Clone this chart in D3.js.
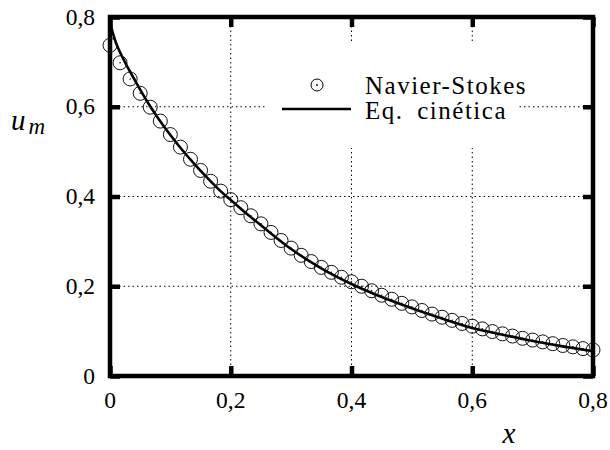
<!DOCTYPE html>
<html><head><meta charset="utf-8"><script src="https://cdn.jsdelivr.net/npm/d3@7"></script></head>
<body style="margin:0">
<svg id="fig" width="610" height="450"></svg>
<script>
// Navier-Stokes solution: centreline velocity u_m sampled every 1/60 in x
const nsX = d3.range(49).map(i => i / 60);
const nsU = [
  0.737, 0.698, 0.662, 0.630, 0.599, 0.568, 0.538, 0.510, 0.483, 0.458,
  0.434, 0.412, 0.393, 0.375, 0.357, 0.339, 0.320, 0.302, 0.285, 0.269,
  0.255, 0.242, 0.231, 0.220, 0.210, 0.200, 0.190, 0.180, 0.171, 0.162,
  0.154, 0.146, 0.138, 0.131, 0.124, 0.117, 0.111, 0.105, 0.099, 0.094,
  0.089, 0.084, 0.080, 0.076, 0.072, 0.068, 0.065, 0.061, 0.058
];

// Kinetic equation solution
const kinX = [0, 0.005, 0.01, 0.02, 0.03, 0.04, 0.05, 0.06, 0.08, 0.10,
  0.12, 0.14, 0.16, 0.18, 0.20, 0.22, 0.25, 0.30, 0.35, 0.40,
  0.45, 0.50, 0.55, 0.60, 0.65, 0.70, 0.75, 0.80];
const kinU = [0.790, 0.763, 0.742, 0.712, 0.686, 0.662, 0.638, 0.615, 0.574, 0.537,
  0.503, 0.472, 0.443, 0.416, 0.392, 0.369, 0.336, 0.283, 0.240, 0.205,
  0.176, 0.151, 0.128, 0.107, 0.092, 0.078, 0.066, 0.055];

const xTicks = [0, 0.2, 0.4, 0.6, 0.8];
const yTicks = [0, 0.2, 0.4, 0.6, 0.8];
const legendLabels = ["Navier-Stokes", "Eq. cinética"];
const fmt = v => v === 0 ? "0" : d3.format(".1f")(v).replace(".", ",");

const FONT = '"Liberation Serif", Tinos, monospace';
// apply the serif face with priority so no other rule overrides it
const serif = sel => sel.style("font-family", FONT, "important");

const svg = d3.select("#fig");
const L = 110, R = 593, T = 17, B = 376;
const x = d3.scaleLinear().domain([0, 0.8]).range([L, R]);
const y = d3.scaleLinear().domain([0, 0.8]).range([B, T]);

// dotted grid
const grid = svg.append("g")
  .attr("stroke", "#000").attr("stroke-width", 1)
  .attr("stroke-dasharray", "1.5,3").attr("fill", "none");
grid.selectAll("line.gx").data(xTicks.slice(1, -1)).join("line")
  .attr("x1", d => x(d)).attr("x2", d => x(d)).attr("y1", T).attr("y2", B);
grid.selectAll("line.gy").data(yTicks.slice(1, -1)).join("line")
  .attr("y1", d => y(d)).attr("y2", d => y(d)).attr("x1", L).attr("x2", R);

// legend box background hides the grid behind it
svg.append("rect").attr("x", 265).attr("y", 43).attr("width", 253).attr("height", 105)
  .attr("fill", "#fff");

// axes: tick marks only (inward, on all four sides)
const tickLen = 10;
const axisG = svg.append("g");
axisG.append("g").attr("transform", `translate(0,${B})`)
  .call(d3.axisBottom(x).tickValues(xTicks).tickFormat("").tickSizeInner(-tickLen).tickSizeOuter(0));
axisG.append("g").attr("transform", `translate(${L},0)`)
  .call(d3.axisLeft(y).tickValues(yTicks).tickFormat("").tickSizeInner(-tickLen).tickSizeOuter(0));
axisG.append("g").attr("transform", `translate(0,${T})`)
  .call(d3.axisTop(x).tickValues(xTicks).tickFormat("").tickSizeInner(-tickLen).tickSizeOuter(0));
axisG.append("g").attr("transform", `translate(${R},0)`)
  .call(d3.axisRight(y).tickValues(yTicks).tickFormat("").tickSizeInner(-tickLen).tickSizeOuter(0));
axisG.selectAll(".domain").remove();
axisG.selectAll("text").remove();
axisG.selectAll(".tick line").attr("stroke", "#000").attr("stroke-width", 4.5);

// tick labels placed from the same scales
svg.append("g").selectAll("text").data(xTicks).join("text")
  .attr("x", d => x(d)).attr("y", B + 32).attr("font-size", 23.5)
  .attr("text-anchor", "middle").call(serif).text(fmt);
svg.append("g").selectAll("text").data(yTicks).join("text")
  .attr("x", L - 15).attr("y", d => y(d) + 7.5).attr("font-size", 23.5)
  .attr("text-anchor", "end").call(serif).text(fmt);

svg.append("rect").attr("x", L).attr("y", T).attr("width", R - L).attr("height", B - T)
  .attr("fill", "none").attr("stroke", "#000").attr("stroke-width", 4.5);

// kinetic curve
const line = d3.line().x((d, i) => x(kinX[i])).y(d => y(d)).curve(d3.curveMonotoneX);
svg.append("path").datum(kinU).attr("d", line)
  .attr("fill", "none").attr("stroke", "#000").attr("stroke-width", 2.6);

// Navier-Stokes points: open circles with centre dot
const pts = svg.append("g");
pts.selectAll("circle.o").data(nsU).join("circle")
  .attr("cx", (d, i) => x(nsX[i])).attr("cy", d => y(d)).attr("r", 7)
  .attr("fill", "none").attr("stroke", "#111").attr("stroke-width", 1);
pts.selectAll("circle.c").data(nsU).join("circle")
  .attr("cx", (d, i) => x(nsX[i])).attr("cy", d => y(d)).attr("r", 0.8)
  .attr("fill", "#111");

// legend
const lg = svg.append("g");
lg.append("circle").attr("cx", 317).attr("cy", 85).attr("r", 6)
  .attr("fill", "none").attr("stroke", "#000").attr("stroke-width", 1);
lg.append("circle").attr("cx", 317).attr("cy", 85).attr("r", 0.9).attr("fill", "#000");
lg.append("line").attr("x1", 282).attr("x2", 351).attr("y1", 109).attr("y2", 109)
  .attr("stroke", "#000").attr("stroke-width", 2.6);
lg.selectAll("text").data(legendLabels).join("text")
  .attr("x", 365).attr("y", (d, i) => 94 + i * 25).attr("font-size", 25)
  .attr("letter-spacing", 1.5).attr("word-spacing", 6)
  .call(serif).text(d => d);

// axis titles
const yl = svg.append("text").attr("x", 11).attr("y", 130).attr("font-size", 29)
  .attr("font-style", "italic").call(serif);
yl.append("tspan").text("u");
yl.append("tspan").attr("dx", 3).attr("dy", 4).attr("font-size", 23).text("m");
svg.append("text").attr("x", 509).attr("y", 443).attr("text-anchor", "middle")
  .attr("font-size", 29).attr("font-style", "italic").call(serif)
  .text("x");
</script>
</body></html>
